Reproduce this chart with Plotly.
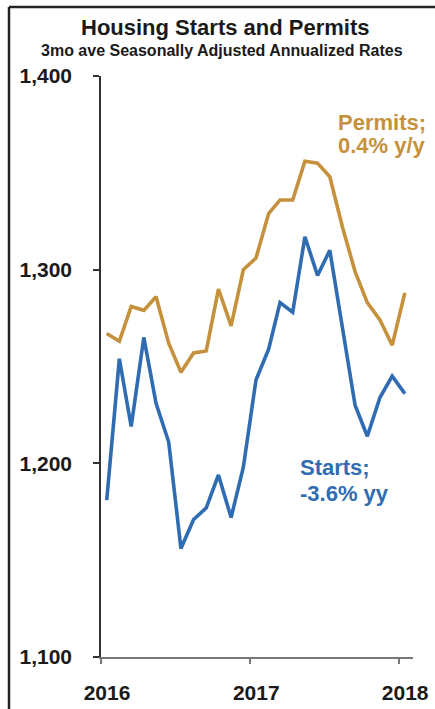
import pandas as pd
import plotly.graph_objects as go

# Monthly observations, Jan 2016 - Jan 2018 (thousands, SAAR, 3-month average)
months = ["2016-01", "2016-02", "2016-03", "2016-04", "2016-05", "2016-06",
          "2016-07", "2016-08", "2016-09", "2016-10", "2016-11", "2016-12",
          "2017-01", "2017-02", "2017-03", "2017-04", "2017-05", "2017-06",
          "2017-07", "2017-08", "2017-09", "2017-10", "2017-11", "2017-12",
          "2018-01"]
permits = [1267, 1263, 1281, 1279, 1286, 1262, 1247, 1257, 1258, 1290, 1271, 1300,
           1306, 1329, 1336, 1336, 1356, 1355, 1348, 1322, 1299, 1283, 1274, 1261,
           1288]
starts = [1181, 1254, 1219, 1265, 1231, 1211, 1156, 1171, 1177, 1194, 1172, 1198,
          1243, 1259, 1283, 1278, 1317, 1297, 1310, 1269, 1230, 1214, 1234, 1245,
          1236]
year_ticks = ["2016-01-01", "2017-01-01", "2018-01-01"]
year_labels = ["2016", "2017", "2018"]
y_ticks = [1100, 1200, 1300, 1400]

# plot each month at mid-month
dates = [pd.Timestamp(m + "-15") for m in months]

W, H = 435, 709
L, R, T, B = 101, 22, 76, 52
PW, PH = W - L - R, H - T - B


def px_x(px):
    return (px - L) / PW


def px_y(py):
    return (H - B - py) / PH


ORANGE = "#C6913D"
BLUE = "#2F6CB1"
FONT = "Liberation Sans, Arial, sans-serif"

fig = go.Figure()
fig.add_trace(go.Scatter(x=dates, y=permits, mode="lines", name="Permits",
                         line=dict(color=ORANGE, width=3.6)))
fig.add_trace(go.Scatter(x=dates, y=starts, mode="lines", name="Starts",
                         line=dict(color=BLUE, width=3.6)))

fig.update_layout(
    width=W, height=H, autosize=False,
    margin=dict(l=L, r=R, t=T, b=B),
    paper_bgcolor="white", plot_bgcolor="white",
    showlegend=False,
    font=dict(family=FONT, color="#1a1a1a"),
)

fig.update_xaxes(
    range=["2016-01-01", "2018-02-04"],
    tickvals=year_ticks, ticktext=year_labels,
    ticks="outside", ticklen=5, tickcolor="#777", tickwidth=1.5,
    showline=True, linecolor="#777", linewidth=1.5,
    showgrid=False, zeroline=False, automargin=False,
    tickfont=dict(size=21, family=FONT, weight="bold", color="#1a1a1a"),
    ticklabelshift=6, ticklabelstandoff=11,
)
fig.update_yaxes(
    range=[1100, 1400],
    tickvals=y_ticks, tickformat=",",
    ticks="outside", ticklen=6, tickcolor="#333", tickwidth=1.5,
    showline=True, linecolor="#333", linewidth=1.5,
    showgrid=False, zeroline=False, automargin=False,
    tickfont=dict(size=21, family=FONT, weight="bold", color="#1a1a1a"),
    ticklabelstandoff=17,
)

anns = [
    ("Housing Starts and Permits", 225, 27, 22, "#1a1a1a", "center"),
    ("3mo ave Seasonally Adjusted Annualized Rates", 222, 50, 16, "#1a1a1a", "center"),
    ("Permits;", 337, 122, 22, ORANGE, "left"),
    ("0.4% y/y", 337, 145, 22, ORANGE, "left"),
    ("Starts;", 299, 467, 22, BLUE, "left"),
    ("-3.6% yy", 299, 494, 22, BLUE, "left"),
]
for text, ax_px, ay_px, size, color, anchor in anns:
    fig.add_annotation(
        text=text, xref="paper", yref="paper",
        x=px_x(ax_px), y=px_y(ay_px), xanchor=anchor, yanchor="middle",
        showarrow=False, borderpad=0,
        font=dict(size=size, family=FONT, weight="bold", color=color),
    )

# frame along the top and left edges
fig.add_shape(type="line", xref="paper", yref="paper",
              x0=px_x(9), x1=px_x(W + 5), y0=px_y(7), y1=px_y(7),
              line=dict(color="#222", width=2.5))
fig.add_shape(type="line", xref="paper", yref="paper",
              x0=px_x(9), x1=px_x(9), y0=px_y(7), y1=px_y(H + 5),
              line=dict(color="#222", width=2.5))

fig.write_html("out.html")
